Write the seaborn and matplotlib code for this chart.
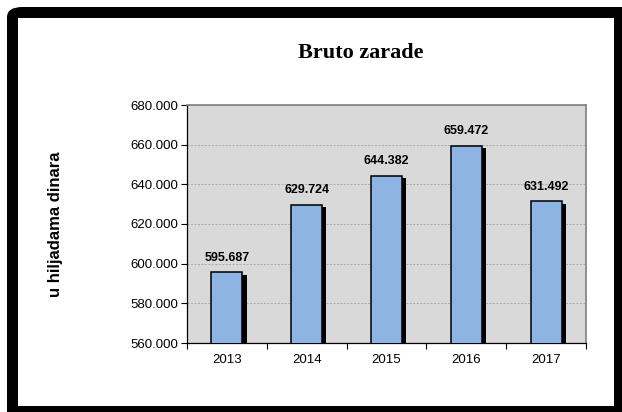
import numpy as np
import pandas as pd
import matplotlib
matplotlib.use('Agg')
import matplotlib.pyplot as plt
import matplotlib.patheffects as pe
from matplotlib.patches import FancyBboxPatch, Rectangle
from matplotlib.ticker import FixedLocator, FuncFormatter
import seaborn as sns

# ==============================================
# data
years = ['2013', '2014', '2015', '2016', '2017']
values = [595.687, 629.724, 644.382, 659.472, 631.492]
y_ticks = [560, 580, 600, 620, 640, 660, 680]

df = pd.DataFrame({'godina': years, 'zarada': values})

# ==============================================
sns.set_style('white')
plt.rcParams['font.family'] = ['Liberation Sans', 'DejaVu Sans']
plt.rcParams['text.color'] = 'black'
plt.rcParams['axes.labelcolor'] = 'black'
plt.rcParams['xtick.color'] = 'black'
plt.rcParams['ytick.color'] = 'black'

fig = plt.figure(figsize=(6.22, 4.12), dpi=100)
W, H = 622, 412

# black rounded frame with white inside
fig.patches.append(FancyBboxPatch((7 / W, -20 / H), 640 / W, (405 + 20) / H,
                                  boxstyle='round,pad=0,rounding_size=0.025',
                                  transform=fig.transFigure, facecolor='black',
                                  edgecolor='none', zorder=0))
fig.patches.append(Rectangle((18 / W, 6 / H), (614 - 18) / W, (394 - 6) / H,
                             transform=fig.transFigure, facecolor='white',
                             edgecolor='none', zorder=1))

ax = fig.add_axes([187 / W, (412 - 343) / H, (586 - 187) / W, (343 - 105) / H])
ax.set_zorder(2)
ax.set_facecolor('#D9D9D9')

sns.barplot(data=df, x='godina', y='zarada', color='#8DB4E2', width=0.39,
            edgecolor='black', linewidth=1.1, saturation=1, ax=ax, zorder=3)

for bar in ax.patches:
    bar.set_path_effects([pe.SimplePatchShadow(offset=(3, -2), shadow_rgbFace='black', alpha=1.0),
                          pe.Normal()])

ax.set_ylim(560, 680)
ax.set_xlim(-0.5, 4.5)
ax.set_yticks(y_ticks)
ax.yaxis.set_major_formatter(FuncFormatter(lambda v, p: '%.3f' % v))
ax.yaxis.grid(True, color='#9A9A9A', linestyle=(0, (3, 2)), linewidth=0.5)
ax.set_axisbelow(True)

# category ticks between bars, labels under bars
ax.xaxis.set_major_locator(FixedLocator(np.arange(-0.5, 5, 1)))
ax.xaxis.set_minor_locator(FixedLocator(np.arange(5)))
ax.set_xticklabels([''] * 6)
ax.set_xticklabels(years, minor=True)
ax.tick_params(axis='x', which='major', length=4, width=0.8, color='black', direction='out')
ax.tick_params(axis='x', which='minor', length=0, pad=8, labelsize=9.5)
ax.tick_params(axis='y', length=4, width=0.8, color='black', direction='out', labelsize=9.5, pad=2)
ax.tick_params(bottom=True, left=True)

for side in ['top', 'right']:
    ax.spines[side].set_color('#808080')
    ax.spines[side].set_linewidth(1.2)
for side in ['left', 'bottom']:
    ax.spines[side].set_color('black')
    ax.spines[side].set_linewidth(0.9)

for i, v in enumerate(values):
    ax.annotate('%.3f' % v, (i, v), xytext=(0, 6), textcoords='offset points',
                ha='center', va='bottom', fontsize=9, fontweight='bold', color='black')

ax.set_xlabel('')
ax.set_ylabel('u hiljadama dinara', fontsize=12, fontweight='bold', color='black')
ax.yaxis.set_label_coords((63 - 187) / 399, 0.5)

fig.text(361 / W, (412 - 53) / H, 'Bruto zarade', ha='center', va='center', color='black',
         fontsize=16, fontweight='bold', family=['Liberation Serif', 'DejaVu Serif'], zorder=3)

fig.savefig('out.png', dpi=100)
